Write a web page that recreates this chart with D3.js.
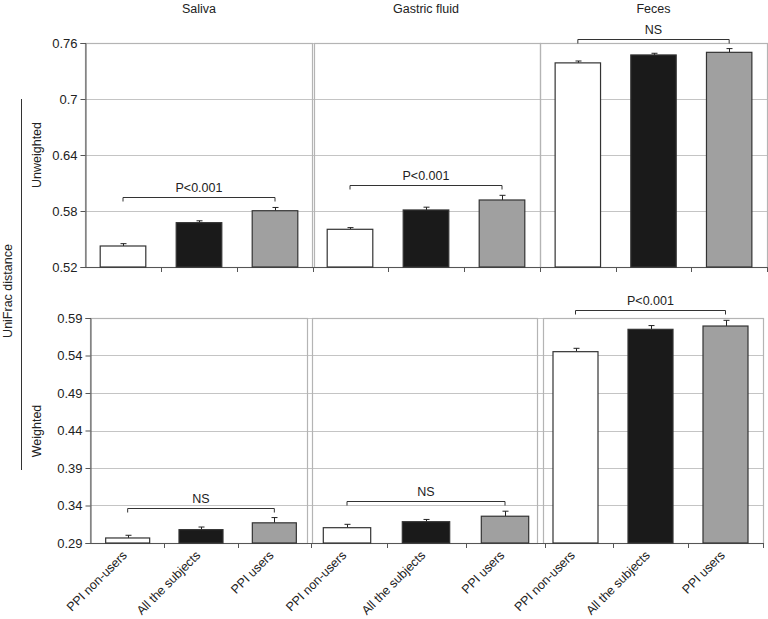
<!DOCTYPE html>
<html>
<head>
<meta charset="utf-8">
<script src="https://cdn.jsdelivr.net/npm/d3@7"></script>
<style>
  html, body { margin: 0; padding: 0; background: #fff; }
  svg { display: block; font-family: "Liberation Sans", Arial, sans-serif; }
</style>
</head>
<body>
<svg id="chart" width="768" height="619"></svg>
<script>
// ---------------- data ----------------
const sites = ["Saliva", "Gastric fluid", "Feces"];
const categories = ["PPI non-users", "All the subjects", "PPI users"];
const barColors = ["#ffffff", "#1a1a1a", "#a0a0a0"];

const unweightedMeans = [[0.5425, 0.5675, 0.5803], [0.5604, 0.5811, 0.5918], [0.7387, 0.7472, 0.7500]];
const unweightedErr   = [[0.0025, 0.0020, 0.0035], [0.0018, 0.0030, 0.0050], [0.0020, 0.0018, 0.0040]];
const weightedMeans   = [[0.2967, 0.3078, 0.3169], [0.3104, 0.3184, 0.3257], [0.5451, 0.5749, 0.5793]];
const weightedErr     = [[0.0036, 0.0035, 0.0070], [0.0045, 0.0030, 0.0067], [0.0045, 0.0050, 0.0076]];

const unweightedTicks = [0.52, 0.58, 0.64, 0.70, 0.76];
const unweightedTickLabels = ["0.52", "0.58", "0.64", "0.7", "0.76"];
const weightedTicks = [0.29, 0.34, 0.39, 0.44, 0.49, 0.54, 0.59];
const weightedTickLabels = ["0.29", "0.34", "0.39", "0.44", "0.49", "0.54", "0.59"];

const unweightedSig = ["P<0.001", "P<0.001", "NS"];
const weightedSig = ["NS", "NS", "P<0.001"];

// ---------------- layout ----------------
const svg = d3.select("#chart");
const textColor = "#222";
const gridColor = "#c4c4c4";
const frameColor = "#b4b4b4";
const axisColor = "#555";

const rows = [
  {
    name: "Unweighted", means: unweightedMeans, errs: unweightedErr,
    ticks: unweightedTicks, tickLabels: unweightedTickLabels, sig: unweightedSig,
    yRange: [267, 43], axisX: 85, xEnd: 767,
    panelRanges: [[85, 313], [312, 540], [540, 767]],
    frames: [[85, 312], [314, 540], [540, 767]],
    labelY: 155, showCats: false
  },
  {
    name: "Weighted", means: weightedMeans, errs: weightedErr,
    ticks: weightedTicks, tickLabels: weightedTickLabels, sig: weightedSig,
    yRange: [543, 318], axisX: 90, xEnd: 763,
    panelRanges: [[91, 311], [307.5, 544.5], [538, 763]],
    frames: [[90, 307], [312, 537], [543, 763]],
    labelY: 431, showCats: true
  }
];

rows.forEach(row => {
  const y = d3.scaleLinear()
    .domain([row.ticks[0], row.ticks[row.ticks.length - 1]])
    .range(row.yRange);
  const y0 = row.yRange[0], y1 = row.yRange[1];
  const g = svg.append("g");

  // gridlines
  g.selectAll("line.grid").data(row.ticks.slice(1)).join("line")
    .attr("x1", row.axisX).attr("x2", row.xEnd)
    .attr("y1", d => Math.round(y(d)) + 0.5).attr("y2", d => Math.round(y(d)) + 0.5)
    .attr("stroke", gridColor).attr("stroke-width", 1);

  // panel frames
  row.frames.forEach(f => {
    g.append("rect")
      .attr("x", f[0] + 0.5).attr("y", Math.round(y1) + 0.5)
      .attr("width", f[1] - f[0]).attr("height", Math.round(y0) - Math.round(y1))
      .attr("fill", "none").attr("stroke", frameColor).attr("stroke-width", 1.2);
  });

  // y axis
  const yAxis = d3.axisLeft(y).tickValues(row.ticks)
    .tickFormat((d, i) => row.tickLabels[i]).tickSize(5).tickPadding(3);
  const ya = g.append("g").attr("transform", `translate(${row.axisX + 0.5},0)`).call(yAxis);
  ya.attr("font-family", null).attr("font-size", null);
  ya.select(".domain").attr("stroke", axisColor);
  ya.selectAll(".tick line").attr("stroke", axisColor);
  ya.selectAll(".tick text").attr("fill", textColor).style("font-size", "13px");

  // row label
  svg.append("text")
    .attr("transform", `translate(41,${row.labelY}) rotate(-90)`)
    .attr("text-anchor", "middle").attr("fill", textColor)
    .style("font-size", "12.5px").text(row.name);

  // panels
  sites.forEach((site, si) => {
    const r = row.panelRanges[si];
    const x = d3.scaleBand().domain(categories)
      .range(r).paddingInner(0.4).paddingOuter(0.2);
    const pg = g.append("g");

    // x axis (ticks at band boundaries)
    const bounds = d3.range(1, categories.length + 1).map(i => r[0] + i * x.step());
    pg.append("line")
      .attr("x1", r[0]).attr("x2", r[1])
      .attr("y1", Math.round(y0) + 0.5).attr("y2", Math.round(y0) + 0.5)
      .attr("stroke", axisColor);
    pg.selectAll("line.xt").data(bounds).join("line")
      .attr("x1", d => Math.round(d) + 0.5).attr("x2", d => Math.round(d) + 0.5)
      .attr("y1", Math.round(y0)).attr("y2", Math.round(y0) + 5)
      .attr("stroke", axisColor);

    const means = row.means[si], errs = row.errs[si];

    // error bars (upper only)
    categories.forEach((cat, ci) => {
      const cx = Math.round(x(cat) + x.bandwidth() / 2) + 0.5;
      const top = y(means[ci] + errs[ci]);
      pg.append("line").attr("x1", cx).attr("x2", cx)
        .attr("y1", y(means[ci])).attr("y2", top).attr("stroke", "#222");
      pg.append("line").attr("x1", cx - 3).attr("x2", cx + 3)
        .attr("y1", top).attr("y2", top).attr("stroke", "#222");
    });

    // bars
    pg.selectAll("rect.bar").data(categories).join("rect")
      .attr("x", d => x(d)).attr("width", x.bandwidth())
      .attr("y", (d, ci) => y(means[ci]))
      .attr("height", (d, ci) => y0 - y(means[ci]))
      .attr("fill", (d, ci) => barColors[ci])
      .attr("stroke", "#333").attr("stroke-width", 1.2);

    // significance bracket
    const maxTop = d3.min(categories, (d, ci) => y(means[ci] + errs[ci]));
    const by = Math.round(maxTop - 10) + 0.5;
    const bx1 = x(categories[0]) + x.bandwidth() / 2;
    const bx2 = x(categories[2]) + x.bandwidth() / 2;
    pg.append("path")
      .attr("d", `M${bx1},${by + 4}V${by}H${bx2}V${by + 4}`)
      .attr("fill", "none").attr("stroke", "#333");
    pg.append("text")
      .attr("x", (bx1 + bx2) / 2).attr("y", by - 6)
      .attr("text-anchor", "middle").attr("fill", textColor)
      .style("font-size", "12.5px").text(row.sig[si]);

    // column titles
    if (!row.showCats) {
      svg.append("text")
        .attr("x", (r[0] + r[1]) / 2).attr("y", 13)
        .attr("text-anchor", "middle").attr("fill", textColor)
        .style("font-size", "12.5px").text(site);
    }

    // category labels
    if (row.showCats) {
      pg.selectAll("text.cat").data(categories).join("text")
        .attr("transform", d => `translate(${x(d) + x.bandwidth() / 2 - 3},${y0 + 10}) rotate(-45)`)
        .attr("text-anchor", "end").attr("dy", "0.35em")
        .attr("fill", textColor).style("font-size", "12.5px").text(d => d);
    }
  });
});

// overall y label
svg.append("text")
  .attr("transform", "translate(12,291) rotate(-90)")
  .attr("text-anchor", "middle").attr("fill", textColor)
  .style("font-size", "12.5px").text("UniFrac distance");
svg.append("line")
  .attr("x1", 21.5).attr("x2", 21.5).attr("y1", 99).attr("y2", 470)
  .attr("stroke", "#333");
</script>
</body>
</html>
